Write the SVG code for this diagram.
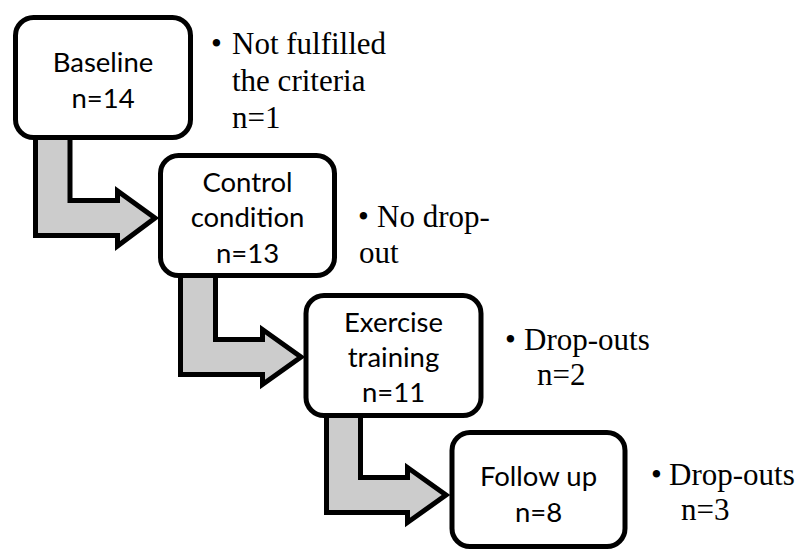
<svg xmlns="http://www.w3.org/2000/svg" width="801" height="551" viewBox="0 0 801 551">
<style>
.box{fill:#ffffff;stroke:#000000;stroke-width:5}
.arr{fill:#cccccc;stroke:#000000;stroke-width:5;stroke-linejoin:miter}
.lbl{font-family:Lato,"Noto Sans",sans-serif;font-size:27.5px;fill:#000000;text-anchor:middle}
.note{font-family:"Liberation Serif","Times New Roman",serif;font-size:31px;fill:#000000}
</style>
<rect width="801" height="551" fill="#ffffff"/>
<g id="connectors">
<path class="arr" d="M35.5,130 L70,130 L70,200.5 L117.5,200.5 L117.5,191 L155,218 L117.5,246 L117.5,235.5 L35.5,235.5 Z"/>
<path class="arr" d="M180.5,268 L215.5,268 L215.5,339.5 L262.5,339.5 L262.5,329.5 L301,357 L262.5,384.5 L262.5,374.5 L180.5,374.5 Z"/>
<path class="arr" d="M326.5,408 L360.5,408 L360.5,477.5 L407.5,477.5 L407.5,467.5 L446,495 L407.5,522.5 L407.5,512.5 L326.5,512.5 Z"/>
</g>
<g id="baseline">
<rect class="box" x="15.5" y="17.5" width="175" height="120" rx="18"/>
<text class="lbl" x="103" y="72">Baseline</text>
<text class="lbl" x="103" y="108">n=14</text>
</g>
<g id="control">
<rect class="box" x="160.5" y="155.5" width="174" height="120" rx="18"/>
<text class="lbl" x="247.5" y="192">Control</text>
<text class="lbl" x="247.5" y="227">condition</text>
<text class="lbl" x="247.5" y="263">n=13</text>
</g>
<g id="exercise">
<rect class="box" x="306" y="295.5" width="175" height="120" rx="18"/>
<text class="lbl" x="393.5" y="332">Exercise</text>
<text class="lbl" x="393.5" y="367">training</text>
<text class="lbl" x="393.5" y="402">n=11</text>
</g>
<g id="followup">
<rect class="box" x="452" y="432.5" width="173" height="114" rx="18"/>
<text class="lbl" x="538.5" y="486">Follow up</text>
<text class="lbl" x="538.5" y="522">n=8</text>
</g>
<g id="note-baseline">
<text class="note" x="211" y="54">•</text>
<text class="note" x="232" y="54">Not fulfilled</text>
<text class="note" x="232" y="91">the criteria</text>
<text class="note" x="232" y="128">n=1</text>
</g>
<g id="note-control">
<text class="note" x="358" y="227">•</text>
<text class="note" x="377" y="227">No drop-</text>
<text class="note" x="359" y="263">out</text>
</g>
<g id="note-exercise">
<text class="note" x="505" y="350">•</text>
<text class="note" x="524" y="350">Drop-outs</text>
<text class="note" x="537" y="385">n=2</text>
</g>
<g id="note-followup">
<text class="note" x="651" y="485">•</text>
<text class="note" x="669" y="485">Drop-outs</text>
<text class="note" x="681" y="520">n=3</text>
</g>
</svg>
